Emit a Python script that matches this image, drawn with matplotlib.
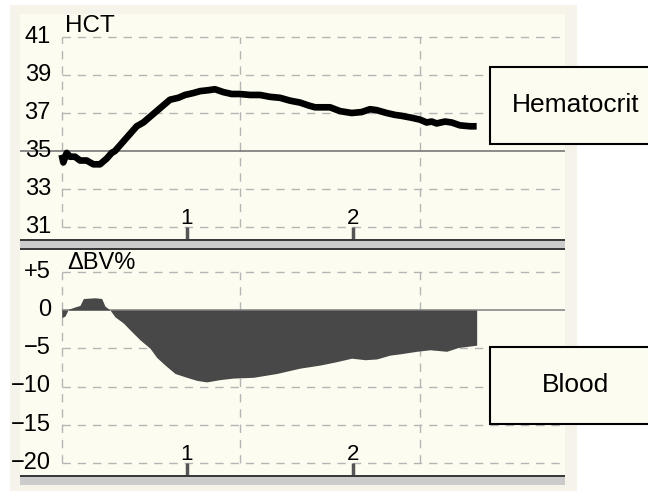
import matplotlib
matplotlib.use("Agg")
import matplotlib.pyplot as plt
from matplotlib.patches import Rectangle
import numpy as np

plt.rcParams['font.family'] = ['Liberation Sans', 'DejaVu Sans']

# time in hours
hct_t = [0.25, 0.26, 0.28, 0.30, 0.33, 0.36, 0.40, 0.44, 0.48, 0.52, 0.55, 0.57,
         0.62, 0.66, 0.70, 0.74, 0.78, 0.82, 0.86, 0.90, 0.95, 0.99, 1.04, 1.08,
         1.13, 1.17, 1.22, 1.27, 1.32, 1.38, 1.44, 1.50, 1.56, 1.62, 1.68, 1.73,
         1.77, 1.82, 1.86, 1.92, 1.99, 2.05, 2.10, 2.14, 2.20, 2.25, 2.29, 2.35,
         2.40, 2.44, 2.47, 2.50, 2.55, 2.59, 2.64, 2.70, 2.74]
hct = [34.8, 34.4, 34.9, 34.7, 34.7, 34.5, 34.5, 34.3, 34.3, 34.6, 34.9, 35.0,
       35.5, 35.9, 36.3, 36.5, 36.8, 37.1, 37.4, 37.7, 37.8, 37.95, 38.05, 38.15,
       38.2, 38.25, 38.1, 38.0, 38.0, 37.95, 37.95, 37.85, 37.8, 37.65, 37.55, 37.4,
       37.3, 37.3, 37.3, 37.1, 37.0, 37.05, 37.2, 37.15, 37.0, 36.9, 36.85, 36.75,
       36.65, 36.5, 36.55, 36.45, 36.55, 36.5, 36.35, 36.3, 36.3]

bv_t = [0.25, 0.27, 0.29, 0.33, 0.36, 0.38, 0.45, 0.49, 0.51, 0.54, 0.57, 0.62,
        0.66, 0.72, 0.78, 0.82, 0.87, 0.93, 1.00, 1.06, 1.12, 1.20, 1.28, 1.40,
        1.54, 1.68, 1.80, 1.89, 1.99, 2.07, 2.14, 2.22, 2.29, 2.38, 2.46, 2.56,
        2.63, 2.74]
bv = [-1.0, -0.8, 0.1, 0.4, 0.6, 1.5, 1.6, 1.5, 0.5, 0.0, -0.9, -1.7,
      -2.6, -3.9, -5.0, -6.2, -7.2, -8.3, -8.8, -9.2, -9.4, -9.1, -8.9, -8.8,
      -8.3, -7.6, -7.2, -6.8, -6.3, -6.5, -6.4, -5.9, -5.7, -5.4, -5.2, -5.4,
      -4.9, -4.6]

hct_ticks = [41, 39, 37, 35, 33, 31]
bv_ticks = [5, 0, -5, -10, -15, -20]
bv_labels = ['+5', '0', '\u22125', '\u221210', '\u221215', '\u221220']
hour_ticks = [1, 2]
vgrid = [0.25, 1.32, 2.40]

W, H = 648, 493
cream = '#fdfcf0'
beige = '#f6f3ea'


def px(x0, y0, x1, y1):
    # pixel box (top-left origin) -> figure fraction [l, b, w, h]
    return [x0 / W, 1 - y1 / H, (x1 - x0) / W, (y1 - y0) / H]


def fig_rect(box, **kw):
    b = px(*box)
    fig.patches.append(Rectangle((b[0], b[1]), b[2], b[3],
                                 transform=fig.transFigure, **kw))


fig = plt.figure(figsize=(W / 100, H / 100), dpi=100)
fig.patch.set_facecolor('white')
fig_rect((10, 5, 577, 491), facecolor=beige, edgecolor='none', zorder=-5)

xmax = 3.27
ax1 = fig.add_axes(px(20, 14, 565, 240))
ax2 = fig.add_axes(px(20, 250, 565, 476))
ax1.set_xlim(0, xmax)
ax2.set_xlim(0, xmax)
ax1.set_ylim(31 - 13 * 10 / 190, 41 + 23 * 10 / 190)
ax2.set_ylim(-20 - 13 * 20 / 153, 60 * 20 / 153)

grid_kw = dict(color='#b5b5b5', lw=1.0, linestyles=(0, (6, 5)), zorder=1)

for ax, ticks, labels, base, lo, hi in [
        (ax1, hct_ticks, [str(v) for v in hct_ticks], 35, 31, 41),
        (ax2, bv_ticks, bv_labels, 0, -20, 5)]:
    ax.set_facecolor(cream)
    for s in ax.spines.values():
        s.set_visible(False)
    ax.set_xticks([])
    ax.set_yticks([])
    others = [v for v in ticks if v != base]
    ax.hlines(others, vgrid[0], xmax, **grid_kw)
    ax.vlines(vgrid, lo, hi, **grid_kw)
    for v, lab in zip(ticks, labels):
        ax.text(0.185, v, lab, ha='right', va='center', fontsize=17)
    for h in hour_ticks:
        ax.plot([h, h], [lo - 13 * (hi - lo) / 190, lo], color='#555555',
                lw=2.5, solid_capstyle='butt', zorder=3, clip_on=False)
        ax.text(h, lo + 0.015 * (hi - lo), str(h), ha='center', va='baseline',
                fontsize=16)

ax1.hlines(35, 0, xmax, color='#777777', lw=1.2, zorder=2)
ax1.plot(hct_t, hct, color='black', lw=4.8, solid_joinstyle='round',
         solid_capstyle='butt', zorder=4)
ax1.text(0.27, 41.25, 'HCT', ha='left', va='baseline', fontsize=17.5)

ax2.hlines(0, vgrid[0], xmax, color='#888888', lw=1.2, zorder=2)
ax2.fill_between(bv_t, bv, 0, color='#484848', lw=0, zorder=3)
ax2.text(0.285, 5.3, '\u0394BV%', ha='left', va='baseline', fontsize=17)

# separator bands
for y_top, y_bot, lines in [(239, 250, [239, 248]), (475, 485, [475])]:
    fig_rect((20, y_top, 565, y_bot), facecolor='#cbcbcb', edgecolor='none', zorder=5)
    for yy in lines:
        fig_rect((20, yy, 565, yy + 2.2), facecolor='#3a3a3a', edgecolor='none', zorder=6)

# label boxes
for (y0, y1), name in [((67, 144), 'Hematocrit'), ((347, 424), 'Blood')]:
    fig_rect((490, y0, 660, y1), facecolor=cream, edgecolor='black', lw=1.5, zorder=7)
    fig.text(576 / W, 1 - (y0 + y1) / 2 / H, name, ha='center', va='center',
             fontsize=19, zorder=8)

fig.savefig('out.png', dpi=100)
